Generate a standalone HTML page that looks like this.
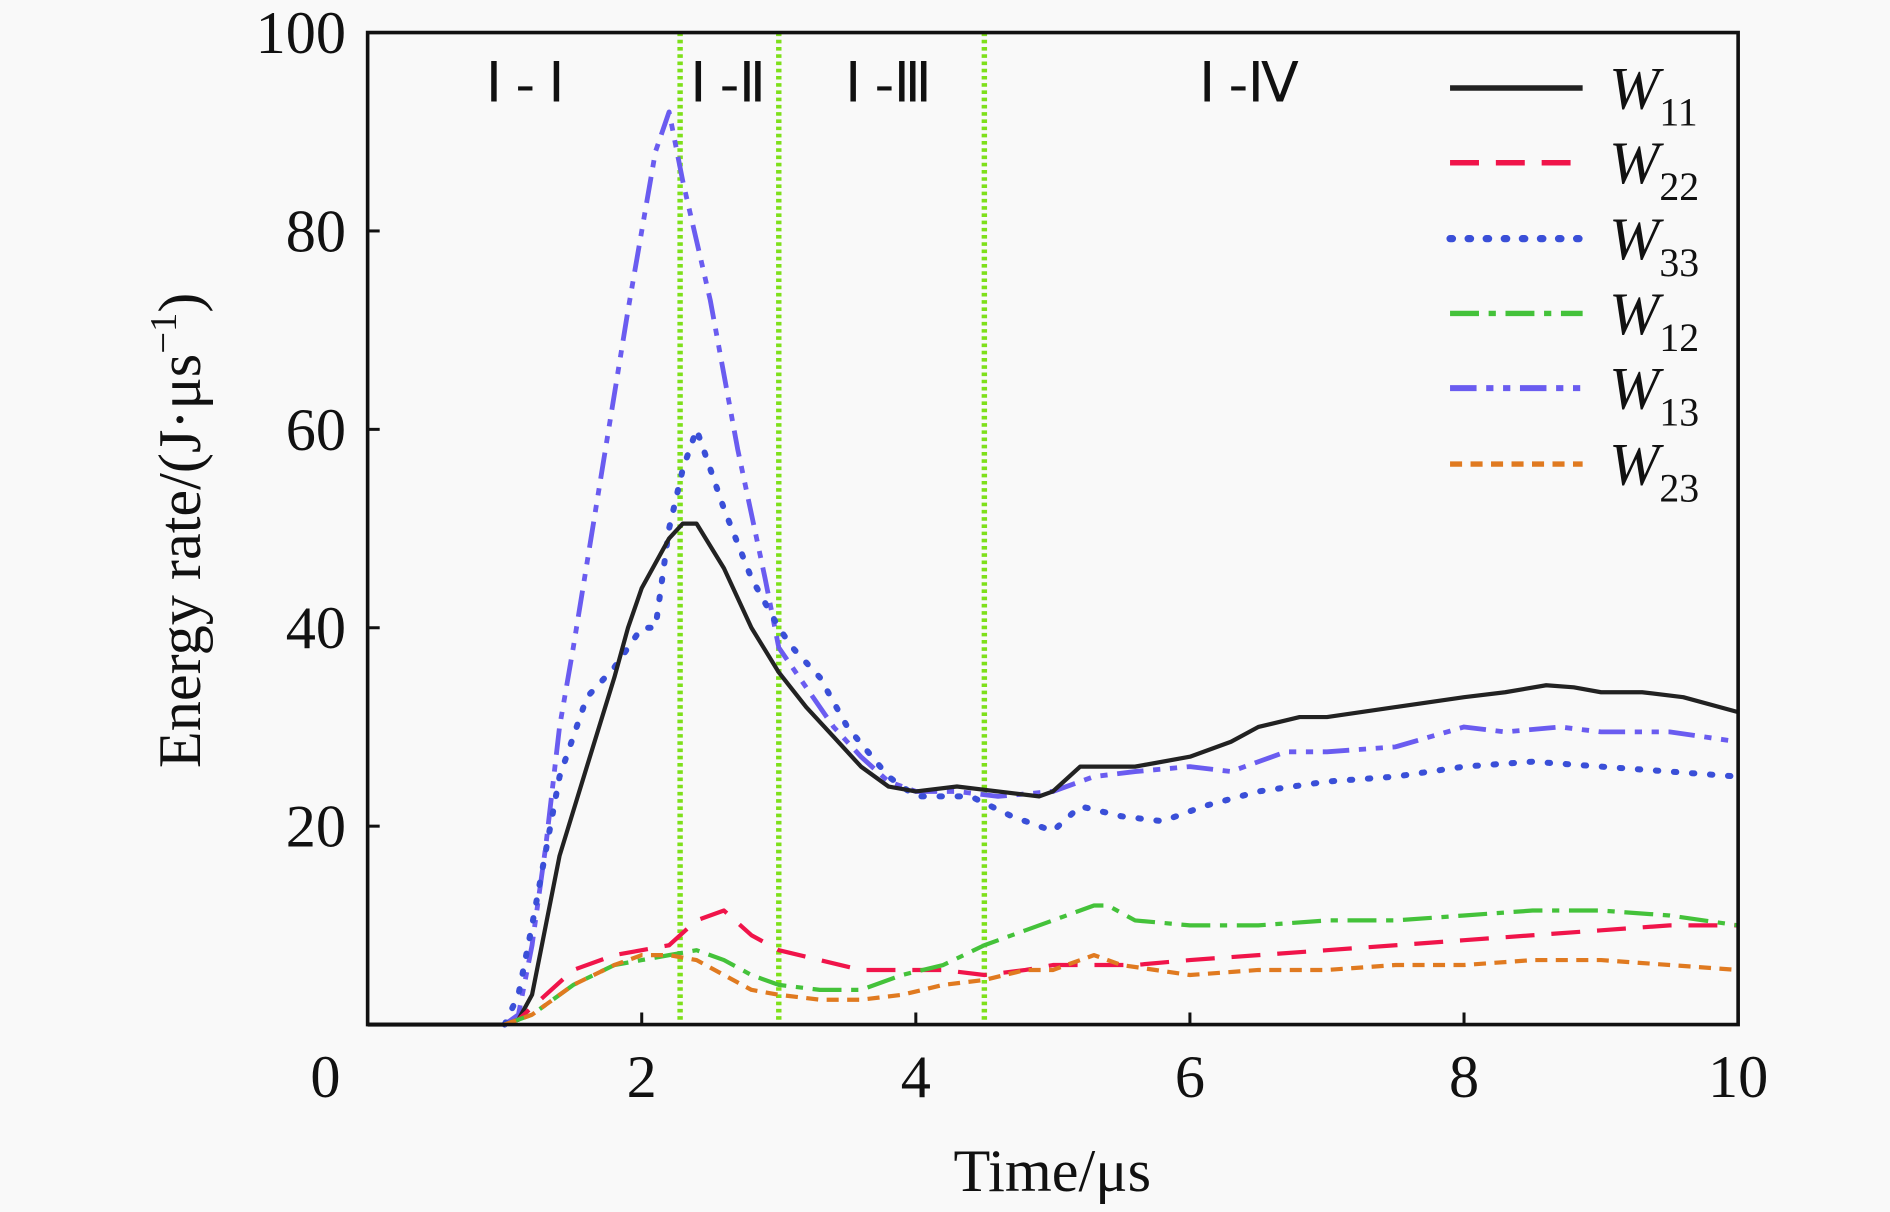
<!DOCTYPE html>
<html><head><meta charset="utf-8">
<style>
html,body{margin:0;padding:0;background:#f9f9f9;}
svg{display:block;}
text{font-family:"Liberation Serif",serif;fill:#111;}
</style></head>
<body>
<svg id="chart" width="1890" height="1212" viewBox="0 0 1568 1005.5" xmlns="http://www.w3.org/2000/svg">
<rect width="1568" height="1006" fill="#f9f9f9"/>
<g id="plot"></g>
</svg>
<script>
const xTicks=[2,4,6,8,10];
const yTicks=[20,40,60,80,100];
const phaseBounds=[2.28,3.0,4.5];
const phaseLabels=["Ⅰ - Ⅰ","Ⅰ -Ⅱ","Ⅰ -Ⅲ","Ⅰ -Ⅳ"];
const phaseCenters=[1.15,2.63,3.8,6.43];
const seriesNames=["11","22","33","12","13","23"];
const w11x=[0,1.0,1.1,1.2,1.3,1.4,1.6,1.8,1.9,2.0,2.2,2.3,2.4,2.6,2.8,3.0,3.2,3.4,3.6,3.8,4.0,4.3,4.6,4.9,5.0,5.2,5.6,6.0,6.3,6.5,6.8,7.0,7.5,8.0,8.3,8.6,8.8,9.0,9.3,9.6,10];
const w11y=[0,0,0.5,3,10,17,26,35,40,44,49,50.5,50.5,46,40,35.5,32,29,26,24,23.5,24,23.5,23,23.5,26,26,27,28.5,30,31,31,32,33,33.5,34.2,34,33.5,33.5,33,31.5];
const w13x=[1.0,1.1,1.2,1.3,1.4,1.5,1.7,1.9,2.1,2.2,2.3,2.5,2.7,2.9,3.0,3.2,3.4,3.6,3.8,4.0,4.3,4.6,5.0,5.3,5.6,6.0,6.3,6.7,7.0,7.5,8.0,8.3,8.7,9.0,9.5,10];
const w13y=[0,1,8,18,30,38,55,72,88,92,85,73,58,45,38,34,30,27,24.5,23.5,23.5,23,23.5,25,25.5,26,25.5,27.5,27.5,28,30,29.5,30,29.5,29.5,28.5];
const w33x=[1.0,1.1,1.2,1.4,1.6,1.8,2.0,2.1,2.2,2.3,2.4,2.5,2.6,2.8,3.0,3.1,3.3,3.5,3.8,4.0,4.4,4.7,5.0,5.2,5.5,5.8,6.1,6.5,7.0,7.5,8.0,8.5,9.0,9.5,10];
const w33y=[0,3,10,25,33,36,40,40,50,56,60,56,52,45,40,38,35,30,25,23,23,21,19.5,22,21,20.5,22,23.5,24.5,25,26,26.5,26,25.5,25];
const w22x=[1.0,1.1,1.3,1.5,1.8,2.0,2.2,2.4,2.6,2.8,3.0,3.3,3.6,3.9,4.2,4.5,4.8,5.0,5.3,5.6,6.0,6.5,7.0,7.5,8.0,8.5,9.0,9.5,10];
const w22y=[0,0.5,3,5.5,7,7.5,8,10.5,11.5,9,7.5,6.5,5.5,5.5,5.5,5,5.5,6,6,6,6.5,7,7.5,8,8.5,9,9.5,10,10];
const w12x=[1.0,1.2,1.5,1.8,2.0,2.2,2.4,2.6,2.8,3.0,3.3,3.6,3.9,4.2,4.5,4.8,5.0,5.3,5.4,5.6,6.0,6.5,7.0,7.5,8.0,8.5,9.0,9.5,10];
const w12y=[0,1,4,6,6.5,7,7.5,6.5,5,4,3.5,3.5,5,6,8,9.5,10.5,12,12,10.5,10,10,10.5,10.5,11,11.5,11.5,11,10];
const w23x=[1.0,1.2,1.5,1.8,2.0,2.2,2.4,2.6,2.8,3.0,3.3,3.6,3.9,4.2,4.5,4.8,5.0,5.3,5.5,6.0,6.5,7.0,7.5,8.0,8.5,9.0,9.5,10];
const w23y=[0,1,4,6,7,7,6.5,5,3.5,3,2.5,2.5,3,4,4.5,5.5,5.5,7,6,5,5.5,5.5,6,6,6.5,6.5,6,5.5];

const L=305,R=1442,T=27,B=850;
const sx=v=>L+(R-L)*v/10;
const sy=v=>B-(B-T)*v/100;
const NS="http://www.w3.org/2000/svg";
const g=document.getElementById('plot');
function mk(tag,attrs,parent){const e=document.createElementNS(NS,tag);for(const k in attrs)e.setAttribute(k,attrs[k]);(parent||g).appendChild(e);return e;}

const styles=[
 {c:"#222",w:3.5,d:"",cap:"butt"},
 {c:"#f0144a",w:3.5,d:"24 14",cap:"butt"},
 {c:"#3a4fd8",w:5,d:"2 13",cap:"round"},
 {c:"#44c23a",w:3.5,d:"24 8 6 8",cap:"butt"},
 {c:"#6a5cf0",w:4,d:"22 8 6 8 6 8",cap:"butt"},
 {c:"#e07a20",w:3.5,d:"10 7",cap:"butt"}
];
const seriesX=[w11x,w22x,w33x,w12x,w13x,w23x];
const seriesY=[w11y,w22y,w33y,w12y,w13y,w23y];

phaseBounds.forEach((b,i)=>{
 const l=mk('line',{x1:sx(b),x2:sx(b),y1:T,y2:B,stroke:"#7ee01a","stroke-width":4.5,"stroke-dasharray":"3 3"});
 
 
});
phaseLabels.forEach((p,i)=>{
 const t=mk('text',{x:sx(phaseCenters[i]),y:84,"font-size":46,"text-anchor":"middle","font-family":"'Noto Serif CJK SC','Liberation Serif',serif"});
 t.textContent=p;
 
 
});
[4,2,0,1,3,5].forEach(i=>{
 const d=seriesX[i].map((x,k)=>(k?'L':'M')+sx(x).toFixed(1)+','+sy(seriesY[i][k]).toFixed(1)).join(' ');
 const p=mk('path',{d:d,fill:"none",stroke:styles[i].c,"stroke-width":styles[i].w,"stroke-dasharray":styles[i].d,"stroke-linejoin":"round","stroke-linecap":styles[i].cap});
 
 
});
const fr=mk('rect',{x:L,y:T,width:R-L,height:B-T,fill:"none",stroke:"#111","stroke-width":3});


xTicks.forEach(v=>{
 const tk=mk('line',{x1:sx(v),x2:sx(v),y1:B,y2:B-10,stroke:"#111","stroke-width":2.5});
 
 
 const t=mk('text',{x:sx(v),y:910,"font-size":50,"text-anchor":"middle"});
 t.textContent=v;
 
 
});
const z=mk('text',{x:270,y:910,"font-size":50,"text-anchor":"middle"});z.textContent="0";


yTicks.forEach(v=>{
 const tk=mk('line',{x1:L,x2:L+10,y1:sy(v),y2:sy(v),stroke:"#111","stroke-width":2.5});
 
 
 const t=mk('text',{x:287,y:sy(v)+17,"font-size":50,"text-anchor":"end"});
 t.textContent=v;
 
 
});
const xt=mk('text',{x:873,y:988,"font-size":50,"text-anchor":"middle"});xt.textContent="Time/μs";


const yt=mk('text',{x:0,y:0,"font-size":50,"text-anchor":"middle",transform:"translate(166,440) rotate(-90)"});
yt.innerHTML='Energy rate/(J·μs<tspan dy="-20" font-size="32">−1</tspan><tspan dy="20">)</tspan>';


const legY=[73,135,198,260,322,385];
seriesNames.forEach((n,i)=>{
 const s=styles[i];
 const l=mk('line',{x1:1203,x2:1313,y1:legY[i],y2:legY[i],stroke:s.c,"stroke-width":s.w+1,"stroke-dasharray":s.d,"stroke-linecap":s.cap});
 
 
 const t=mk('text',{x:1335,y:legY[i]+17,"font-size":50});
 t.innerHTML='<tspan font-style="italic">W</tspan><tspan dy="14" font-size="33">'+n+'</tspan>';
 
 
});
</script>
</body></html>
